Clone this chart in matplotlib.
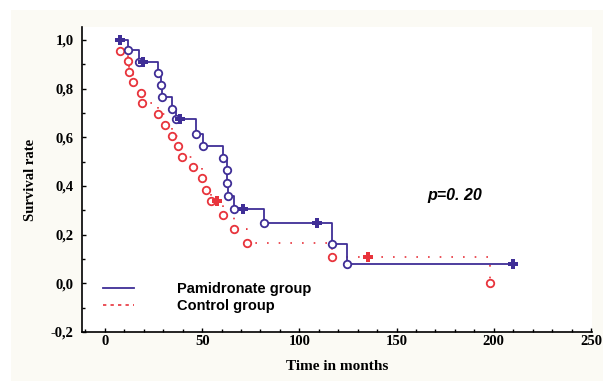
import numpy as np
import matplotlib
matplotlib.use("Agg")
import matplotlib.pyplot as plt
from matplotlib.lines import Line2D
from matplotlib.patches import Rectangle
from matplotlib.ticker import MultipleLocator, FuncFormatter

# ---------------- data ----------------
start_time = 7.7

# Pamidronate group: event times / survival after each event
pam_t = [11.8, 17.6, 27.4, 28.8, 29.3, 34.6, 36.5, 46.6, 50.6, 60.5,
         62.6, 63.0, 63.4, 66.4, 81.8, 116.6, 124.3]
pam_s = [0.957, 0.910, 0.865, 0.813, 0.766, 0.717, 0.673, 0.615, 0.566, 0.515,
         0.464, 0.412, 0.360, 0.307, 0.246, 0.161, 0.080]
pam_cens_t = [7.7, 19.7, 38.6, 71.1, 109.2, 210.0]
pam_cens_s = [1.0, 0.910, 0.673, 0.307, 0.246, 0.080]

# Control group
ctl_t = [7.7, 11.7, 12.3, 14.6, 18.5, 19.2, 27.4, 30.9, 34.3, 37.7,
         39.4, 45.4, 49.7, 51.8, 54.4, 60.5, 66.4, 72.9, 116.6, 198.0]
ctl_s = [0.954, 0.914, 0.869, 0.828, 0.783, 0.739, 0.696, 0.651, 0.607, 0.563,
         0.520, 0.478, 0.433, 0.382, 0.338, 0.282, 0.223, 0.165, 0.110, 0.0]
ctl_cens_t = [57.7, 135.4]
ctl_cens_s = [0.338, 0.110]

p_text = "p=0. 20"
labels = ["Pamidronate group", "Control group"]

BLUE = "#3f2e96"
RED = "#e8343c"

# ---------------- figure ----------------
fig = plt.figure(figsize=(6.03, 3.81), dpi=100, facecolor="white")
fig.patches.append(Rectangle((11 / 603, 0), 1, 371 / 381, transform=fig.transFigure,
                             facecolor="#fbfaf4", edgecolor="none", zorder=-10))
ax = fig.add_axes([82 / 603, 49 / 381, 510 / 603, 305 / 381])
ax.set_facecolor("white")


def step_xy(t0, times, surv, t_end):
    x = [t0] + list(times) + [t_end]
    y = [1.0] + list(surv) + [surv[-1]]
    return np.array(x), np.array(y)


# blue curve ends at last censor
bx, by = step_xy(start_time, pam_t, pam_s, pam_cens_t[-1])
ax.plot(bx, by, drawstyle="steps-post", color=BLUE, lw=1.3, zorder=3)
ax.plot(pam_t, pam_s, "o", ms=5.4, mfc="white", mec=BLUE, mew=1.3, zorder=4)
ax.plot(pam_cens_t, pam_cens_s, "P", ms=6.5, color=BLUE, mew=0, zorder=4)

# red curve ends at last event
rx = np.array([start_time] + ctl_t)
ry = np.array([1.0] + ctl_s)
ax.plot(rx, ry, drawstyle="steps-post", color=RED, lw=1.2,
        linestyle=(0, (1, 6)), zorder=2)
ax.plot(ctl_t, ctl_s, "o", ms=5.4, mfc="white", mec=RED, mew=1.3, zorder=3)
ax.plot(ctl_cens_t, ctl_cens_s, "P", ms=6.5, color=RED, mew=0, zorder=3)

ax.text(165.6, 0.36, p_text, fontsize=11.5, fontweight="bold", style="italic",
        family="Liberation Sans", va="center", ha="left")

# ---------------- axes ----------------
ax.set_xlim(-11.8, 250.5)
ax.set_ylim(-0.2, 1.053)
for s in ["top", "right"]:
    ax.spines[s].set_visible(False)
for s in ["left", "bottom"]:
    ax.spines[s].set_linewidth(1.2)

ax.xaxis.set_major_locator(MultipleLocator(50))
ax.xaxis.set_minor_locator(MultipleLocator(10))
ax.yaxis.set_major_locator(MultipleLocator(0.2))
ax.yaxis.set_minor_locator(MultipleLocator(0.1))
ax.yaxis.set_major_formatter(FuncFormatter(lambda v, p: f"{v:.1f}".replace(".", ",")))
ax.tick_params(which="both", direction="in", width=1)
ax.tick_params(which="major", length=3)
ax.tick_params(which="minor", length=2)
ax.tick_params(axis="x", pad=2)
ax.tick_params(axis="y", pad=6)
for lab in ax.get_xticklabels() + ax.get_yticklabels():
    lab.set_family("Liberation Serif")
    lab.set_fontweight("bold")
    lab.set_fontsize(10.5)

ax.set_xlabel("Time in months", family="Liberation Serif", fontweight="bold",
              fontsize=11, labelpad=9)
ax.set_ylabel("Survival rate", family="Liberation Serif", fontweight="bold",
              fontsize=10.5, labelpad=10)

handles = [Line2D([], [], color=BLUE, lw=1.3),
           Line2D([], [], color=RED, lw=1.2, linestyle=(0, (2, 2.5)))]
leg = ax.legend(handles, labels, loc="upper left", bbox_to_anchor=(0.041, 0.165),
                frameon=False, borderpad=0, borderaxespad=0, handlelength=2.1,
                handletextpad=3.0, labelspacing=0.25,
                prop={"family": "Liberation Sans", "weight": "bold", "size": 10.5})

fig.savefig("out.png", dpi=100)
